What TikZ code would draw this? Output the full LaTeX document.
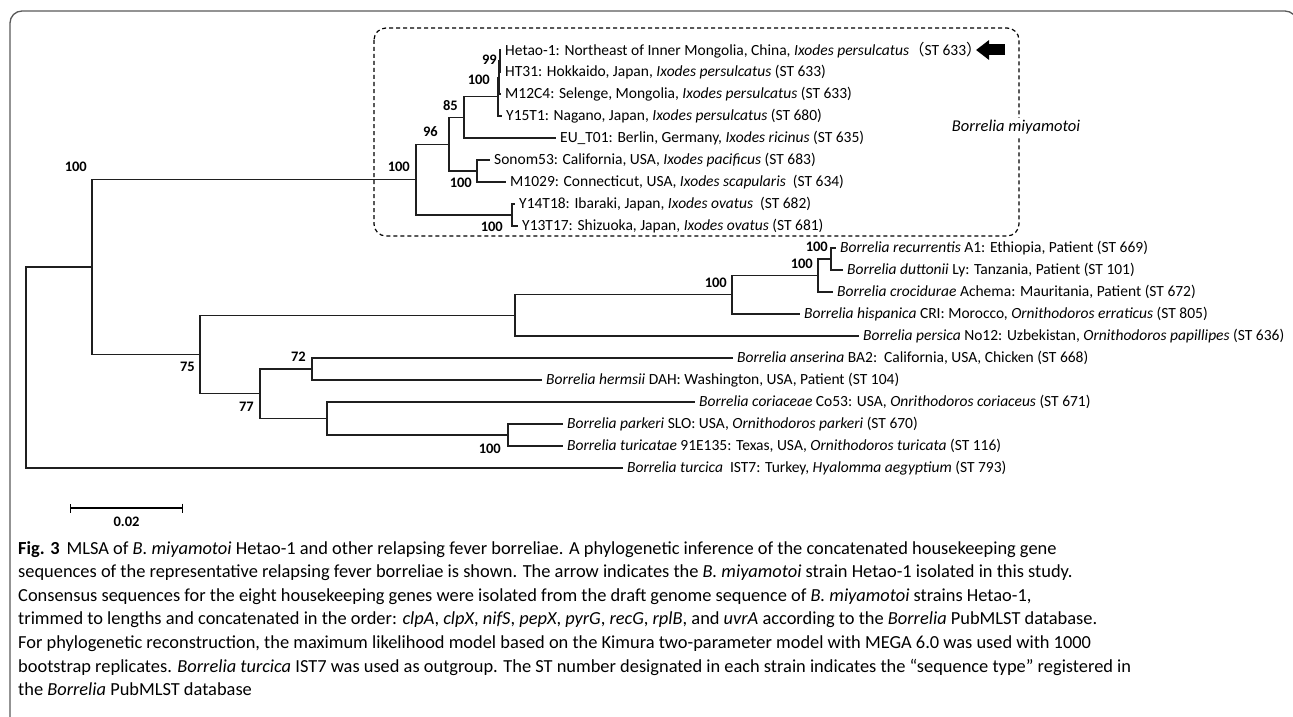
\documentclass[tikz,border=0pt]{standalone}
\usepackage{fontspec}
\setmainfont{Carlito}
\newfontfamily\cjk{Noto Sans CJK SC}
\usetikzlibrary{arrows.meta, calc, positioning}
\tikzset{
    branch/.style={line width=1.4pt, color=black!88},
    leaf/.style={anchor=west, inner sep=0pt, xshift=4pt, font=\fontsize{15.5}{17}\selectfont},
    boot/.style={anchor=east, inner sep=0pt, font=\fontsize{14.5}{16}\selectfont\bfseries},
    cladebox/.style={dashed, dash pattern=on 4pt off 3pt, line width=1.2pt, rounded corners=12pt},
    cladelabel/.style={fill=white, inner sep=2pt, font=\fontsize{16.5}{18}\selectfont\itshape},
    frame/.style={line width=1.3pt, color=black!65, rounded corners=12pt},
    caption/.style={anchor=north west, inner sep=0pt, align=left, font=\fontsize{18.4}{23.6}\selectfont}
}
\begin{document}
\begin{tikzpicture}[x=1pt, y=-1pt]
    \useasboundingbox (0,0) rectangle (1293,717);
    \clip (0,0) rectangle (1293,717);
    % outer frame of the figure
    \draw[frame] (10,740) -- (10,11) -- (1297,11) -- (1297,740);

    % leaf tips, one row every 22
    \coordinate (t0) at (501,50);
    \coordinate (t1) at (501,72);
    \coordinate (t2) at (501,94);
    \coordinate (t3) at (502,116);
    \coordinate (t4) at (556,138);
    \coordinate (t5) at (490,160);
    \coordinate (t6) at (506,182);
    \coordinate (t7) at (515,204);
    \coordinate (t8) at (518,226);
    \coordinate (t9) at (836,248);
    \coordinate (t10) at (843,270);
    \coordinate (t11) at (833,292);
    \coordinate (t12) at (800,314);
    \coordinate (t13) at (859,336);
    \coordinate (t14) at (733,358);
    \coordinate (t15) at (542,380);
    \coordinate (t16) at (695,402);
    \coordinate (t17) at (563,424);
    \coordinate (t18) at (563,446);
    \coordinate (t19) at (623,468);

    % inner nodes
    \coordinate (A) at (500,61);
    \coordinate (B) at (499,77.5);
    \coordinate (C) at (498,96.75);
    \coordinate (D) at (464,117.4);
    \coordinate (F) at (477,171);
    \coordinate (E) at (449,144.2);
    \coordinate (H) at (512,215);
    \coordinate (G) at (416,179.6);
    \coordinate (R1) at (831,259);
    \coordinate (R2) at (818,275.5);
    \coordinate (R3) at (732,294.75);
    \coordinate (R4) at (515,315.4);
    \coordinate (N72) at (312,369);
    \coordinate (P) at (508,435);
    \coordinate (Q) at (327,418.5);
    \coordinate (N77) at (260,393.75);
    \coordinate (N75) at (200,354.6);
    \coordinate (K) at (92,267.1);
    \coordinate (root) at (26,367.5);

    % Borrelia miyamotoi clade
    \draw[branch] (A) |- (t0);
    \draw[branch] (A) |- (t1);
    \draw[branch] (B) |- (A);
    \draw[branch] (B) |- (t2);
    \draw[branch] (C) |- (B);
    \draw[branch] (C) |- (t3);
    \draw[branch] (D) |- (C);
    \draw[branch] (D) |- (t4);
    \draw[branch] (F) |- (t5);
    \draw[branch] (F) |- (t6);
    \draw[branch] (E) |- (D);
    \draw[branch] (E) |- (F);
    \draw[branch] (H) |- (t7);
    \draw[branch] (H) |- (t8);
    \draw[branch] (G) |- (E);
    \draw[branch] (G) |- (H);
    % other relapsing fever borreliae
    \draw[branch] (R1) |- (t9);
    \draw[branch] (R1) |- (t10);
    \draw[branch] (R2) |- (R1);
    \draw[branch] (R2) |- (t11);
    \draw[branch] (R3) |- (R2);
    \draw[branch] (R3) |- (t12);
    \draw[branch] (R4) |- (R3);
    \draw[branch] (R4) |- (t13);
    \draw[branch] (N72) |- (t14);
    \draw[branch] (N72) |- (t15);
    \draw[branch] (P) |- (t17);
    \draw[branch] (P) |- (t18);
    \draw[branch] (Q) |- (t16);
    \draw[branch] (Q) |- (P);
    \draw[branch] (N77) |- (N72);
    \draw[branch] (N77) |- (Q);
    \draw[branch] (N75) |- (R4);
    \draw[branch] (N75) |- (N77);
    \draw[branch] (K) |- (G);
    \draw[branch] (K) |- (N75);
    \draw[branch] (root) |- (K);
    \draw[branch] (root) |- (t19);

    % bootstrap values
    \node[boot] (bA) at ($(A)+(-3,-1)$) {99};
    \node[boot] (bB) at ($(B)+(-9,2.5)$) {100};
    \node[boot] (bD) at ($(D)+(-6,-11.4)$) {85};
    \node[boot] (bE) at ($(E)+(-11,-13)$) {96};
    \node[boot] (bG) at ($(G)+(-6,-12.6)$) {100};
    \node[boot] (bF) at ($(F)+(-5,12)$) {100};
    \node[boot] (bH) at ($(H)+(-9,12)$) {100};
    \node[boot] (bK) at ($(K|-G)+(-5,-13)$) {100};
    \node[boot] (bR1) at ($(R1)+(-3,-12)$) {100};
    \node[boot] (bR2) at ($(R2)+(-5,-11.5)$) {100};
    \node[boot] (bR3) at ($(R3)+(-5,-12)$) {100};
    \node[boot] (b75) at ($(N75)+(-5,12.4)$) {75};
    \node[boot] (b77) at ($(N77)+(-6,13)$) {77};
    \node[boot] (b72) at ($(N72)+(-6,-12)$) {72};
    \node[boot] (bP) at ($(P)+(-7,14)$) {100};

    % strain labels
    \node[leaf] (l0) at (t0) {Hetao-1: Northeast of Inner Mongolia, China, \textit{Ixodes persulcatus}{\cjk （}ST 633{\cjk ）}};
    \node[leaf] (l1) at (t1) {HT31: Hokkaido, Japan, \textit{Ixodes persulcatus} (ST 633)};
    \node[leaf] (l2) at (t2) {M12C4: Selenge, Mongolia, \textit{Ixodes persulcatus} (ST 633)};
    \node[leaf] (l3) at (t3) {Y15T1: Nagano, Japan, \textit{Ixodes persulcatus} (ST 680)};
    \node[leaf] (l4) at (t4) {EU\_T01: Berlin, Germany, \textit{Ixodes ricinus} (ST 635)};
    \node[leaf] (l5) at (t5) {Sonom53: California, USA, \textit{Ixodes pacificus} (ST 683)};
    \node[leaf] (l6) at (t6) {M1029: Connecticut, USA, \textit{Ixodes scapularis}\ \ (ST 634)};
    \node[leaf] (l7) at (t7) {Y14T18: Ibaraki, Japan, \textit{Ixodes ovatus}\ \ (ST 682)};
    \node[leaf] (l8) at (t8) {Y13T17: Shizuoka, Japan, \textit{Ixodes ovatus} (ST 681)};
    \node[leaf] (l9) at (t9) {\textit{Borrelia recurrentis} A1: Ethiopia, Patient (ST 669)};
    \node[leaf] (l10) at (t10) {\textit{Borrelia duttonii} Ly: Tanzania, Patient (ST 101)};
    \node[leaf] (l11) at (t11) {\textit{Borrelia crocidurae} Achema: Mauritania, Patient (ST 672)};
    \node[leaf] (l12) at (t12) {\textit{Borrelia hispanica} CRI: Morocco, \textit{Ornithodoros erraticus} (ST 805)};
    \node[leaf] (l13) at (t13) {\textit{Borrelia persica} No12: Uzbekistan, \textit{Ornithodoros papillipes} (ST 636)};
    \node[leaf] (l14) at (t14) {\textit{Borrelia anserina} BA2:\ \ California, USA, Chicken (ST 668)};
    \node[leaf] (l15) at (t15) {\textit{Borrelia hermsii} DAH: Washington, USA, Patient (ST 104)};
    \node[leaf] (l16) at (t16) {\textit{Borrelia coriaceae} Co53: USA, \textit{Onrithodoros coriaceus} (ST 671)};
    \node[leaf] (l17) at (t17) {\textit{Borrelia parkeri} SLO: USA, \textit{Ornithodoros parkeri} (ST 670)};
    \node[leaf] (l18) at (t18) {\textit{Borrelia turicatae} 91E135: Texas, USA, \textit{Ornithodoros turicata} (ST 116)};
    \node[leaf] (l19) at (t19) {\textit{Borrelia turcica}\ \ IST7: Turkey, \textit{Hyalomma aegyptium} (ST 793)};

    % arrow pointing at Hetao-1
    \coordinate (arrowTail) at (1005,50);
    \coordinate (arrowTip) at (976,50);
    \draw[-{Triangle[length=13pt,width=19pt]}, line width=11pt] (arrowTail) -- (arrowTip);

    % dashed box round B. miyamotoi
    \coordinate (boxNW) at (374,28);
    \coordinate (boxSE) at (1019,236);
    \draw[cladebox] (boxNW) rectangle (boxSE);
    \node[cladelabel] (miya) at (1016,127) {Borrelia miyamotoi};

    % scale bar
    \coordinate (sbL) at (70,508);
    \coordinate (sbR) at (183,508);
    \draw[line width=1.4pt, {Bar[width=9pt]}-{Bar[width=9pt]}] (sbL) -- (sbR);
    \node[font=\fontsize{14.5}{16}\selectfont\bfseries, below=5pt of $(sbL)!0.5!(sbR)$] (sbT) {0.02};

    % figure caption
    \node[caption] (cap) at (18,541) {\textbf{Fig. 3}\hspace{7pt}MLSA of \textit{B. miyamotoi} Hetao-1 and other relapsing fever borreliae. A phylogenetic inference of the concatenated housekeeping gene\\
    sequences of the representative relapsing fever borreliae is shown. The arrow indicates the \textit{B. miyamotoi} strain Hetao-1 isolated in this study.\\
    Consensus sequences for the eight housekeeping genes were isolated from the draft genome sequence of \textit{B. miyamotoi} strains Hetao-1,\\
    trimmed to lengths and concatenated in the order: \textit{clpA}, \textit{clpX}, \textit{nifS}, \textit{pepX}, \textit{pyrG}, \textit{recG}, \textit{rplB}, and \textit{uvrA} according to the \textit{Borrelia} PubMLST database.\\
    For phylogenetic reconstruction, the maximum likelihood model based on the Kimura two-parameter model with MEGA 6.0 was used with 1000\\
    bootstrap replicates. \textit{Borrelia turcica} IST7 was used as outgroup. The ST number designated in each strain indicates the “sequence type” registered in\\
    the \textit{Borrelia} PubMLST database};
\end{tikzpicture}
\end{document}
